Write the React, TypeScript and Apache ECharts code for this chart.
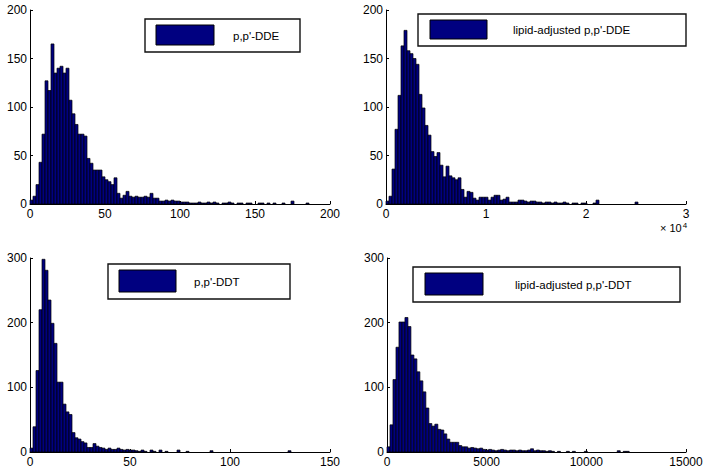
import React, { useEffect, useRef } from "react";
import * as echarts from "echarts";

// ---- data (histogram counts) ----
const DDE_BIN_WIDTH = 2;
const DDE_COUNTS = [
  4, 8, 20, 43, 72, 127, 117, 165, 135, 140, 142, 135, 140, 107, 93, 82, 72, 72, 70, 47, 42, 35, 35, 35, 28,
  25, 23, 20, 27, 11, 6, 9, 13, 8, 7, 8, 7, 7, 8, 7, 11, 6, 6, 3, 3, 4, 3, 4, 3, 3, 2, 2, 2, 1, 1, 1, 2, 1, 1, 2,
  1, 2, 1, 0, 1, 1, 2, 1, 0, 1, 1, 0, 1, 1, 0, 0, 1, 1, 0, 1, 0, 1, 0, 0, 1, 0, 0, 3, 0, 0, 0, 0, 1, 0, 0, 0, 0, 0, 0, 0,
];

const LA_DDE_BIN_WIDTH = 300;
const LA_DDE_COUNTS = [
  3, 8, 36, 77, 112, 163, 179, 158, 155, 150, 144, 113, 99, 81, 71, 54, 49, 53, 40, 28, 39, 29, 27, 25, 27,
  15, 7, 13, 12, 6, 4, 7, 7, 7, 4, 7, 9, 9, 4, 5, 7,
  2, 2, 2, 4, 4, 3, 2, 3, 3, 2, 2, 1, 2, 2, 1, 2, 1, 1, 2, 1, 0, 1, 1, 0, 1, 1, 0, 0, 1, 4, 0,
  0, 0, 0, 0, 0, 0, 0, 0, 0, 0, 0, 2, 0, 0, 0, 0, 0, 0, 0, 0, 0, 0, 0, 0, 0, 0, 0, 0,
];

const DDT_BIN_WIDTH = 1.5;
const DDT_COUNTS = [
  6, 39, 126, 220, 298, 281, 235, 199, 168, 108, 108, 74, 62, 58, 30, 22, 20, 16, 14, 7, 7, 13, 9, 7, 6,
  4, 6, 4, 4, 6, 4, 3, 4,
  3, 3, 2, 1, 3, 1, 0, 3, 1, 0, 3, 0, 1, 0, 0, 0, 3, 0, 0, 1,
  0, 0, 0, 0, 0, 0, 0, 2,
  0, 0, 0, 0, 0, 0, 0, 0, 0, 0, 0, 0, 0, 0, 0, 0, 0, 0, 0, 0, 0, 0, 0, 0, 0, 2,
  0, 0, 0, 0, 0, 0, 0, 0, 0, 0, 0, 0, 0,
];

const LA_DDT_BIN_WIDTH = 150;
const LA_DDT_COUNTS = [
  8, 42, 112, 162, 201, 201, 208, 194, 150, 144, 124, 110, 93, 68, 44, 40, 43, 35, 34, 28, 20, 15, 15, 15, 10,
  8, 8, 6, 7, 6, 5, 6, 4, 3, 4, 3, 2,
  3, 4, 3, 2, 3, 3, 2, 3, 2, 2, 3, 5, 2, 3, 2, 2, 1, 2, 1,
  0, 1, 0, 0, 1, 0, 1, 0, 0, 0, 1,
  0, 0, 0, 0, 0, 0, 0, 0, 0, 0,
  2, 0, 1, 1,
  0, 0, 0, 0, 0, 0, 0, 0, 0, 0, 0, 0, 0, 0, 0, 0, 0, 0, 0,
];

const LEGEND_LABELS = ["p,p'-DDE", "lipid-adjusted p,p'-DDE", "p,p'-DDT", "lipid-adjusted p,p'-DDT"];

const X_MAX = [200, 30000, 150, 15000];
const X_INTERVAL = [50, 10000, 50, 5000];
const Y_MAX = [200, 200, 300, 300];
const Y_INTERVAL = [50, 50, 100, 100];

const FONT = "'Liberation Sans', Arial, Helvetica, sans-serif";
const BAR_FILL = "#000080";

function toBins(counts: number[], w: number) {
  return counts.map((c, i) => [i * w, (i + 1) * w, c]);
}

export default function App() {
  const ref = useRef<HTMLDivElement>(null);

  useEffect(() => {
    if (!ref.current) return;
    const chart = echarts.init(ref.current, null, { renderer: "svg" });

    const grids = [
      { left: 30, top: 10, width: 300, height: 194 },
      { left: 386, top: 10, width: 300, height: 194 },
      { left: 30, top: 258, width: 300, height: 194 },
      { left: 387, top: 258, width: 299, height: 194 },
    ];
    const binsets = [
      toBins(DDE_COUNTS, DDE_BIN_WIDTH),
      toBins(LA_DDE_COUNTS, LA_DDE_BIN_WIDTH),
      toBins(DDT_COUNTS, DDT_BIN_WIDTH),
      toBins(LA_DDT_COUNTS, LA_DDT_BIN_WIDTH),
    ];

    const axisCommon = {
      axisLine: { show: true, onZero: false, lineStyle: { color: "#000", width: 1 } },
      axisTick: { show: true, inside: true, length: 3, lineStyle: { color: "#000" } },
      splitLine: { show: false },
    };

    const xAxis = grids.map((_, i) => ({
      type: "value",
      gridIndex: i,
      min: 0,
      max: X_MAX[i],
      interval: X_INTERVAL[i],
      ...axisCommon,
      axisLabel: {
        color: "#000",
        fontSize: 12,
        fontFamily: FONT,
        margin: 4,
        formatter: i === 1 ? (v: number) => String(v / 10000) : (v: number) => String(v),
      },
    }));
    const yAxis = grids.map((_, i) => ({
      type: "value",
      gridIndex: i,
      min: 0,
      max: Y_MAX[i],
      interval: Y_INTERVAL[i],
      ...axisCommon,
      axisLabel: { color: "#000", fontSize: 12, fontFamily: FONT, margin: 3 },
    }));

    const series = binsets.map((bins, i) => ({
      type: "custom",
      name: LEGEND_LABELS[i],
      xAxisIndex: i,
      yAxisIndex: i,
      data: bins,
      encode: { x: [0, 1], y: 2 },
      renderItem: (params: any, api: any) => {
        const c = api.value(2);
        if (!c) return null;
        const p0 = api.coord([api.value(0), c]);
        const p1 = api.coord([api.value(1), 0]);
        return {
          type: "rect",
          shape: { x: p0[0], y: p0[1], width: p1[0] - p0[0], height: p1[1] - p0[1] },
          style: { fill: BAR_FILL, stroke: "#000", lineWidth: 0.7 },
        };
      },
    }));

    const legends = [
      { box: [145, 19, 155, 33], sw: [156, 25, 58, 20], tx: 233 },
      { box: [418, 14, 268, 32], sw: [430, 20, 57, 19], tx: 513 },
      { box: [108, 264, 182, 35], sw: [119, 270, 57, 22], tx: 194 },
      { box: [413, 267, 267, 35], sw: [425, 273, 58, 22], tx: 515 },
    ];
    const graphic: any[] = [];
    legends.forEach((l, i) => {
      graphic.push({
        type: "rect",
        shape: { x: l.box[0], y: l.box[1], width: l.box[2], height: l.box[3] },
        style: { fill: "#fff", stroke: "#111", lineWidth: 1.4 },
        z: 10,
      });
      graphic.push({
        type: "rect",
        shape: { x: l.sw[0], y: l.sw[1], width: l.sw[2], height: l.sw[3] },
        style: { fill: BAR_FILL, stroke: "#000", lineWidth: 1 },
        z: 11,
      });
      graphic.push({
        type: "text",
        x: l.tx,
        y: l.box[1] + l.box[3] / 2,
        style: {
          text: LEGEND_LABELS[i],
          fill: "#000",
          font: `11.5px ${FONT}`,
          textVerticalAlign: "middle",
          verticalAlign: "middle",
        },
        z: 11,
      });
    });
    graphic.push({
      type: "text",
      x: 660,
      y: 221,
      style: {
        text: "× 10{s|4}",
        fill: "#000",
        font: `11px ${FONT}`,
        rich: { s: { fontSize: 8, fontFamily: FONT, verticalAlign: "top", padding: [0, 0, 6, 1] } },
      },
      z: 11,
    });

    chart.setOption({
      animation: false,
      backgroundColor: "#fff",
      grid: grids.map((g) => ({ ...g, containLabel: false })),
      xAxis,
      yAxis,
      series,
      graphic,
    });

    return () => chart.dispose();
  }, []);

  return (
    <div
      ref={ref}
      style={{ position: "absolute", left: 0, top: 0, width: 707, height: 471, background: "#fff" }}
    />
  );
}
